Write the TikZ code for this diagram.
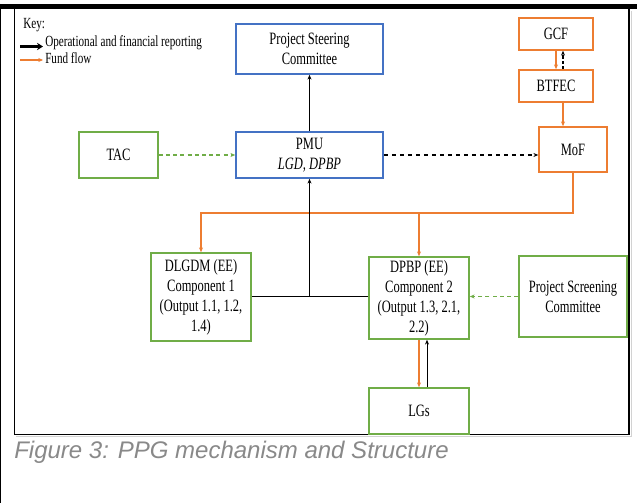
\documentclass[tikz,border=0pt]{standalone}
\usepackage{fontspec}
\setmainfont[FakeStretch=0.72]{Liberation Serif}
\newfontfamily\capfont{Liberation Sans}
\usetikzlibrary{arrows.meta}
\definecolor{bblue}{RGB}{68,114,196}
\definecolor{ggreen}{RGB}{112,173,71}
\definecolor{oorange}{RGB}{237,125,49}
\definecolor{capgray}{RGB}{137,137,137}
\begin{document}
\begin{tikzpicture}[x=0.75pt,y=-0.75pt,
  sz/.style 2 args={minimum width=#1*0.75pt, minimum height=#2*0.75pt},
  box/.style={draw, line width=1.2pt, inner sep=0pt, align=center,
    font=\fontsize{13}{15}\selectfont},
  bluebox/.style={box, draw=bblue},
  greenbox/.style={box, draw=ggreen},
  orangebox/.style={box, draw=oorange},
  keytext/.style={anchor=base west, inner sep=0pt, font=\fontsize{11.6}{13}\selectfont},
  tip/.style={-{Stealth[length=3.6pt,width=3pt]}},
  report/.style={tip, draw=black, line width=0.75pt},
  fund/.style={tip, draw=oorange, line width=0.95pt},
  advise/.style={tip, draw=ggreen, line width=1pt, dash pattern=on 3pt off 2.4pt},
  dreport/.style={tip, draw=black, line width=1.3pt, dash pattern=on 3.4pt off 2.6pt},
  thinreport/.style={tip, draw=black, line width=0.8pt, dash pattern=on 2.5pt off 1.5pt},
]
\useasboundingbox (0,0) rectangle (637,503);
\fill[white] (0,0) rectangle (637,503);

% frame
\fill[black] (0,4) rectangle (637,9.5);
\draw[line width=0.9pt] (0.6,4) -- (0.6,503);
\draw[gray!35, line width=1pt] (631.5,11) -- (631.5,436.8) -- (16,436.8);
\draw[line width=1.3pt] (14.5,9) -- (14.5,434.5) -- (629,434.5) -- (629,9);

% key
\node[keytext] (key) at (23,29) {Key:};
\node[keytext] (kop) at (45,47) {Operational and financial reporting};
\node[keytext] (kfund) at (45,63.5) {Fund flow};
\coordinate (k1s) at (20,46.5);
\coordinate (k1e) at (43,46.5);
\coordinate (k2s) at (20,60);
\coordinate (k2e) at (43,60);
\draw[line width=2.2pt, -{Stealth[length=4.5pt,width=5.5pt]}] (k1s) -- (k1e);
\draw[oorange, line width=0.9pt, -{Stealth[length=3.5pt,width=3pt]}] (k2s) -- (k2e);

% nodes
\node[bluebox, sz={147}{50}] (psc) at (309.5,49) {Project Steering\\Committee};
\node[bluebox, sz={147}{46}] (pmu) at (309.5,155) {PMU\\\textit{LGD, DPBP}};
\node[greenbox, sz={79}{46}] (tac) at (118.5,155) {TAC};
\node[orangebox, sz={74}{32}] (gcf) at (556,34) {GCF};
\node[orangebox, sz={74}{32}] (btfec) at (556,86) {BTFEC};
\node[orangebox, sz={68}{45}] (mof) at (573,149.5) {MoF};
\node[greenbox, sz={100}{88}] (dlgdm) at (201,297) {DLGDM (EE)\\Component 1\\(Output 1.1, 1.2,\\1.4)};
\node[greenbox, sz={100}{82}] (dpbp) at (419,298) {DPBP (EE)\\Component 2\\(Output 1.3, 2.1,\\2.2)};
\node[greenbox, sz={108}{81}] (pscr) at (573,296.5) {Project Screening\\Committee};
\node[greenbox, sz={100}{46}] (lgs) at (419,411) {LGs};

% connectors
\draw[report] (pmu.north) -- (psc.south);
\draw[advise] (tac.east) -- (pmu.west);
\draw[dreport] (pmu.east) -- (pmu.east -| mof.west);
\draw[fund] (gcf.south) -- (btfec.north);
\coordinate (bu) at ([xshift=7*0.75pt]btfec.north);
\draw[thinreport] (bu) -- (bu |- gcf.south);
\coordinate (bd) at ([xshift=7*0.75pt]btfec.south);
\draw[fund] (bd) -- (bd |- mof.north);
\coordinate (fy) at (0,213);
\draw[fund] (mof.south) |- (dlgdm.north |- fy) -- (dlgdm.north);
\draw[fund] (dpbp.north |- fy) -- (dpbp.north);
\draw[report, -] (dlgdm.east) -- (dlgdm.east -| dpbp.west);
\coordinate (jn) at (pmu.south |- dlgdm.east);
\draw[report] (jn) -- (pmu.south);
\draw[fund] (dpbp.south) -- (lgs.north);
\coordinate (lu) at ([xshift=8*0.75pt]lgs.north);
\draw[report] (lu) -- (lu |- dpbp.south);
\draw[advise] (pscr.west) -- (pscr.west -| dpbp.east);

% caption
\node[anchor=base west, inner sep=0pt, text=capgray,
  font=\capfont\itshape\fontsize{18}{20}\selectfont] (cap) at (14,459)
  {Figure 3: PPG mechanism and Structure};
\end{tikzpicture}
\end{document}
